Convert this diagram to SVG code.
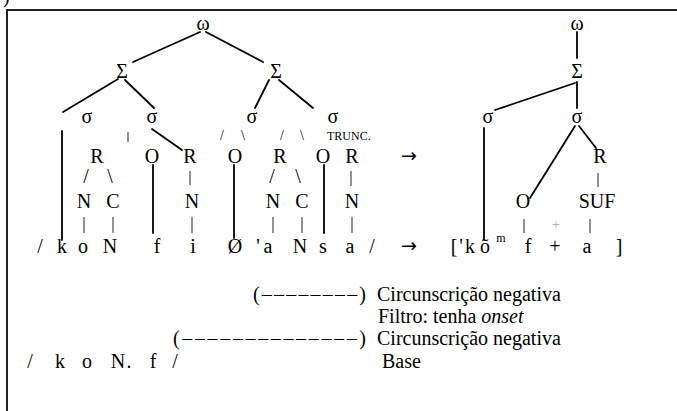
<svg xmlns="http://www.w3.org/2000/svg" width="677" height="411" viewBox="0 0 677 411">
  <style>
    text { font-family: "Liberation Serif", "Times New Roman", serif; fill: #000; }
    .t { font-size: 20px; text-anchor: middle; }
    .sm { font-size: 14px; text-anchor: middle; }
    .lbl { font-size: 12px; }
    .p { font-size: 20px; }
    .arr { font-family: "DejaVu Sans", sans-serif; font-size: 19px; text-anchor: middle; }
    .e { stroke: #000; stroke-width: 1.8; fill: none; stroke-linecap: round; }
    .bar { stroke: #222; stroke-width: 1; fill: none; }
    .frame { stroke: #222; stroke-width: 2; fill: none; }
  </style>
  <rect width="677" height="411" fill="#fff"/>

  <!-- caption fragment and frame -->
  <text x="3" y="3" class="p" font-size="22">)</text>
  <path class="frame" d="M7,411 V10 H677"/>

  <!-- branches -->
  <g id="connectors">
    <!-- input tree -->
    <line class="e" x1="200" y1="32" x2="133" y2="62"/>
    <line class="e" x1="206" y1="32" x2="263" y2="62"/>
    <line class="e" x1="118" y1="79" x2="63" y2="112"/>
    <line class="e" x1="125" y1="80" x2="154" y2="108"/>
    <line class="e" x1="269" y1="80" x2="255" y2="108"/>
    <line class="e" x1="279" y1="80" x2="313" y2="108"/>
    <line class="e" x1="62" y1="131" x2="62" y2="240"/>
    <line class="e" x1="152" y1="129" x2="182" y2="150"/>
    <line class="e" x1="153" y1="165" x2="153" y2="233"/>
    <line class="e" x1="234" y1="165" x2="234" y2="238"/>
    <line class="e" x1="324" y1="165" x2="324" y2="233"/>
    <!-- thin association bars -->
    <line class="bar" x1="128" y1="132" x2="128" y2="142"/>
    <line class="bar" x1="190" y1="171" x2="190" y2="185"/>
    <line class="bar" x1="351" y1="171" x2="351" y2="186"/>
    <line class="bar" x1="84" y1="217" x2="84" y2="233"/>
    <line class="bar" x1="113" y1="217" x2="113" y2="233"/>
    <line class="bar" x1="192" y1="217" x2="192" y2="233"/>
    <line class="bar" x1="273" y1="217" x2="273" y2="233"/>
    <line class="bar" x1="302" y1="217" x2="302" y2="233"/>
    <line class="bar" x1="352" y1="217" x2="352" y2="233"/>
    <!-- output tree -->
    <line class="e" x1="577" y1="32" x2="577" y2="58"/>
    <line class="e" x1="575" y1="83" x2="495" y2="110"/>
    <line class="e" x1="577" y1="82" x2="577" y2="108"/>
    <line class="e" x1="484" y1="128" x2="484" y2="240"/>
    <line class="e" x1="575" y1="126" x2="530" y2="198"/>
    <line class="e" x1="579" y1="126" x2="596" y2="148"/>
    <line class="bar" x1="598" y1="173" x2="598" y2="187"/>
    <line class="bar" x1="524" y1="219" x2="524" y2="233"/>
    <line class="bar" x1="590" y1="219" x2="590" y2="233"/>
  </g>

  <!-- input tree nodes -->
  <g id="word-in"><text class="t" x="203" y="30">ω</text></g>
  <g id="foot-1"><text class="t" x="122" y="78">Σ</text></g>
  <g id="foot-2"><text class="t" x="276" y="78">Σ</text></g>
  <g id="syll-1"><text class="t" x="87" y="123">σ</text></g>
  <g id="syll-2"><text class="t" x="152" y="123">σ</text></g>
  <g id="syll-3"><text class="t" x="252" y="123">σ</text>
    <text class="sm" x="222" y="140">/</text><text class="sm" x="243" y="140">\</text></g>
  <g id="syll-4"><text class="t" x="333" y="123">σ</text>
    <text class="sm" x="282" y="140">/</text><text class="sm" x="302" y="140">\</text>
    <text class="lbl" x="327" y="140">TRUNC.</text></g>

  <g id="rime-1">
    <text class="t" x="97" y="163">R</text>
    <text class="t" x="86" y="183">/</text><text class="t" x="110" y="183">\</text>
    <text class="t" x="84" y="208">N</text><text class="t" x="113" y="208">C</text>
  </g>
  <g id="onset-1"><text class="t" x="152" y="163">O</text></g>
  <g id="rime-2">
    <text class="t" x="190" y="163">R</text>
    <text class="t" x="192" y="208">N</text>
  </g>
  <g id="onset-2"><text class="t" x="235" y="163">O</text></g>
  <g id="rime-3">
    <text class="t" x="280" y="163">R</text>
    <text class="t" x="272" y="183">/</text><text class="t" x="298" y="183">\</text>
    <text class="t" x="273" y="208">N</text><text class="t" x="302" y="208">C</text>
  </g>
  <g id="onset-3"><text class="t" x="323" y="163">O</text></g>
  <g id="rime-4">
    <text class="t" x="352" y="163">R</text>
    <text class="t" x="352" y="208">N</text>
  </g>

  <g id="segments-in">
    <text class="t" x="40" y="253">/</text>
    <text class="t" x="62" y="253">k</text>
    <text class="t" x="83" y="253">o</text>
    <text class="t" x="110" y="253">N</text>
    <text class="t" x="157" y="253">f</text>
    <text class="t" x="193" y="253">i</text>
    <text class="t" x="235" y="253">Ø</text>
    <text class="t" x="258" y="253">'</text>
    <text class="t" x="268" y="253">a</text>
    <text class="t" x="300" y="253">N</text>
    <text class="t" x="323" y="253">s</text>
    <text class="t" x="350" y="253">a</text>
    <text class="t" x="372" y="253">/</text>
  </g>

  <g id="arrows">
    <text class="arr" x="409" y="162">→</text>
    <text class="arr" x="409" y="252">→</text>
  </g>

  <!-- output tree nodes -->
  <g id="word-out"><text class="t" x="577" y="30">ω</text></g>
  <g id="foot-out"><text class="t" x="577" y="78">Σ</text></g>
  <g id="syll-out-1"><text class="t" x="488" y="123">σ</text></g>
  <g id="syll-out-2"><text class="t" x="577" y="123">σ</text></g>
  <g id="rime-out">
    <text class="t" x="600" y="163">R</text>
    <text class="t" x="597" y="208">SUF</text>
  </g>
  <g id="onset-out">
    <text class="t" x="523" y="208">O</text>
  </g>
  <g id="plus-mark"><text class="sm" x="556" y="229" style="fill:#aaa">+</text></g>

  <g id="segments-out">
    <text class="t" x="454" y="253">[</text>
    <text class="t" x="461" y="253">'</text>
    <text class="t" x="470" y="253">k</text>
    <text class="t" x="485" y="253">õ</text>
    <text class="lbl" x="501" y="242" text-anchor="middle">m</text>
    <text class="t" x="528" y="253">f</text>
    <text class="t" x="555" y="253">+</text>
    <text class="t" x="587" y="253">a</text>
    <text class="t" x="619" y="253">]</text>
  </g>

  <!-- derivation notes -->
  <g id="notes">
    <text class="p" x="253" y="301" textLength="113" lengthAdjust="spacing">(––––––––)</text>
    <text class="p" x="377" y="301">Circunscrição negativa</text>
    <text class="p" x="378" y="323">Filtro: tenha <tspan font-style="italic">onset</tspan></text>
    <text class="p" x="173" y="345" textLength="193" lengthAdjust="spacing">(––––––––––––––)</text>
    <text class="p" x="377" y="345">Circunscrição negativa</text>
    <text class="t" y="368"><tspan x="30">/</tspan><tspan x="60">k</tspan><tspan x="87">o</tspan><tspan x="118">N</tspan><tspan x="129">.</tspan><tspan x="153">f</tspan><tspan x="175">/</tspan></text>
    <text class="p" x="382" y="368">Base</text>
  </g>
</svg>
